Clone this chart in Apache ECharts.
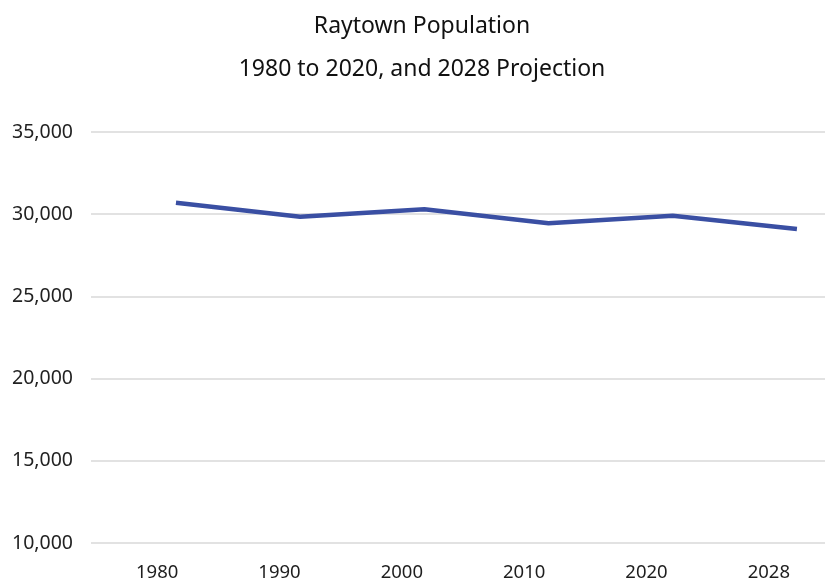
<!DOCTYPE html>
<html>
<head>
<meta charset="utf-8">
<script src="https://cdn.jsdelivr.net/npm/echarts@6/dist/echarts.min.js"></script>
<style>
  html, body { margin: 0; padding: 0; background: #fff; }
  #chart { width: 825px; height: 582px; }
</style>
</head>
<body>
<div id="chart"></div>
<script>
// 数据
const years = ['1980', '1990', '2000', '2010', '2020', '2028'];
const population = [30700, 29850, 30300, 29450, 29900, 29100];
const yMin = 10000;
const yMax = 35000;
const yStep = 5000;

const chart = echarts.init(document.getElementById('chart'));
chart.setOption({
  animation: false,
  title: {
    text: 'Raytown Population\n1980 to 2020, and 2028 Projection',
    left: 422,
    textAlign: 'center',
    top: 5,
    padding: 0,
    textStyle: {
      fontFamily: 'Noto Sans',
      fontWeight: 'normal',
      fontSize: 23,
      lineHeight: 43,
      color: '#111',
    },
  },
  grid: {
    left: 91,
    right: 0,
    top: 132,
    bottom: 37,
  },
  xAxis: [
    {
      // 标签轴
      type: 'category',
      data: years,
      boundaryGap: true,
      axisLine: { show: false },
      axisTick: { show: false },
      splitLine: { show: false },
      axisLabel: {
        margin: 20,
        padding: [0, 0, 0, 10],
        fontFamily: 'Noto Sans',
        fontSize: 18.5,
        color: '#1e1e1e',
      },
    },
    {
      // 折线用的隐藏轴（原图折线相对标签偏右）
      type: 'value',
      show: false,
      min: -0.684,
      max: 5.226,
    },
  ],
  yAxis: {
    type: 'value',
    min: yMin,
    max: yMax,
    interval: yStep,
    axisLine: { show: false },
    axisTick: { show: false },
    splitLine: {
      show: true,
      lineStyle: { color: '#d9d9d9', width: 1.5 },
    },
    axisLabel: {
      margin: 18,
      fontFamily: 'Noto Sans',
      fontSize: 19.5,
      color: '#222',
      formatter: (v) => v.toLocaleString('en-US'),
    },
  },
  series: [
    {
      name: 'Population',
      type: 'line',
      xAxisIndex: 1,
      data: population.map((v, i) => [i, v]),
      showSymbol: false,
      lineStyle: { color: '#3a4fa3', width: 4.5, cap: 'butt', join: 'round' },
      itemStyle: { color: '#3a4fa3' },
    },
  ],
});
</script>
</body>
</html>
